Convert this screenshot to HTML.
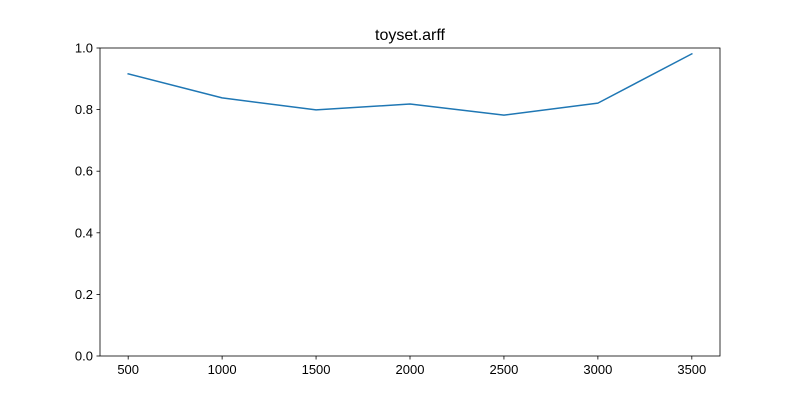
<!DOCTYPE html>
<html><head><meta charset="utf-8"><style>
body{margin:0;background:#fff;}
svg{display:block;font-family:"Liberation Sans","DejaVu Sans",sans-serif;}
</style></head><body>
<svg id="chart" width="800" height="400"></svg>
<script>
const xValues = [500, 1000, 1500, 2000, 2500, 3000, 3500];
const yValues = [0.916, 0.838, 0.799, 0.818, 0.782, 0.821, 0.981];
const xTicks = [500, 1000, 1500, 2000, 2500, 3000, 3500];
const yTicks = [0.0, 0.2, 0.4, 0.6, 0.8, 1.0];
const chartTitle = "toyset.arff";

const L=100,R=720,T=48,B=356;
const xMin=350,xMax=3650,yMin=0,yMax=1;
const sx=v=>L+(v-xMin)/(xMax-xMin)*(R-L);
const sy=v=>B-(v-yMin)/(yMax-yMin)*(B-T);
const svg=document.getElementById('chart');
const NS='http://www.w3.org/2000/svg';
function mk(tag,attrs,parent){const e=document.createElementNS(NS,tag);for(const k in attrs)e.setAttribute(k,attrs[k]);(parent||svg).appendChild(e);return e;}

const title=mk('text',{x:(L+R)/2,y:40,'text-anchor':'middle','font-size':16,fill:'#000'});
title.textContent=chartTitle;



xTicks.forEach(v=>{
  const g=mk('g',{});
  
  
  mk('line',{x1:sx(v),x2:sx(v),y1:B,y2:B+3.5,stroke:'#000','stroke-width':0.8},g);
  const t=mk('text',{x:sx(v),y:B+18,'text-anchor':'middle','font-size':13,fill:'#000'},g);
  t.textContent=v;
});
yTicks.forEach(v=>{
  const g=mk('g',{});
  
  
  mk('line',{x1:L-3.5,x2:L,y1:sy(v),y2:sy(v),stroke:'#000','stroke-width':0.8},g);
  const t=mk('text',{x:L-7,y:sy(v)+4.5,'text-anchor':'end','font-size':13,fill:'#000'},g);
  t.textContent=v.toFixed(1);
});

const pts=xValues.map((x,i)=>sx(x)+','+sy(yValues[i])).join(' ');
const line=mk('polyline',{points:pts,fill:'none',stroke:'#1f77b4','stroke-width':1.5,'stroke-linejoin':'round','stroke-linecap':'square'});



const frame=mk('rect',{x:L,y:T,width:R-L,height:B-T,fill:'none',stroke:'#000','stroke-width':0.8});


</script>
</body></html>
